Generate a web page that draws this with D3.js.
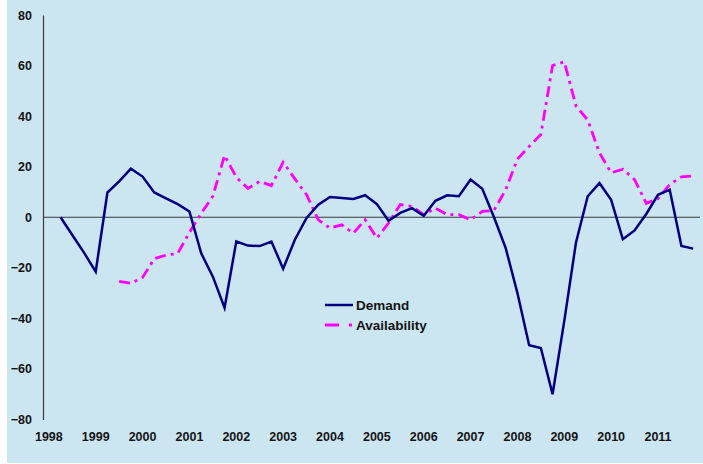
<!DOCTYPE html>
<html>
<head>
<meta charset="utf-8">
<script src="https://cdn.jsdelivr.net/npm/d3@7"></script>
<style>
  body { margin:0; background:#ffffff; }
  svg { display:block; }
  text { font-family: Arial, "Liberation Sans", sans-serif; font-weight:bold; fill:#141414; }
</style>
</head>
<body>
<svg width="703" height="464"></svg>
<script>

// quarterly data, 1998 Q1 .. 2011 Q4
var years = [1998,1999,2000,2001,2002,2003,2004,2005,2006,2007,2008,2009,2010,2011];
var yTicks = [-80,-60,-40,-20,0,20,40,60,80];

var demand = [
    null, 0, -7, -14,
    -21.5, 9.8, 14.2, 19.2,
    16.1, 9.8, 7.5, 5.2,
    2.3, -14.2, -23.5, -35.8,
    -9.6, -11.2, -11.4, -9.6,
    -20.4, -8.9, -0.3, 5,
    8.0, 7.6, 7.2, 8.7,
    5.2, -1.4, 1.7, 3.6,
    0.6, 6.5, 8.7, 8.3,
    14.9, 11.3, 0, -12.2,
    -30, -50.6, -51.7, -70,
    -41, -10, 8.3, 13.5,
    6.9, -8.7, -5.2, 1.3,
    8.9, 10.9, -11.4, -12.4
];

var availability = [
    null, null, null, null,
    null, null, -25.4, -26.1,
    -23.8, -16.4, -15, -14.3,
    -6, 1.5, 8.3, 24.5,
    15.8, 11.4, 14.2, 12.5,
    21.8, 15.2, 8.9, -1,
    -4.3, -3, -6.3, -1,
    -8.3, -2.3, 5, 4.3,
    1, 3.6, 1, 1,
    -1, 2.3, 2.7, 10.9,
    23, 28, 32.7, 60,
    61.5, 44, 38.5, 25.5,
    17.6, 19, 14.9, 5.5,
    7.4, 12.9, 16, 16.3
];

var seriesNames = ['Demand', 'Availability'];

var quarters = [];
years.forEach(function(y){
    for (var q = 1; q <= 4; q++) quarters.push(y + 'Q' + q);
});

var svg = d3.select('svg');

svg.append('rect')
    .attr('x',7)
    .attr('y',0)
    .attr('width',696)
    .attr('height',463)
    .attr('fill','#cce6f1');

var scaleX = d3.scaleBand().domain(quarters).range([43,699]);
var scaleY = d3.scaleLinear().domain([-80,80]).range([419.5,15]);
var half = scaleX.bandwidth()/2;

// y axis
var yAxis = svg.append('g')
    .attr('transform','translate(43,0)')
    .call(d3.axisLeft(scaleY).tickValues(yTicks).tickSize(0).tickPadding(11).tickFormat(d3.format('d')));
yAxis.select('.domain').attr('stroke','#3a3a3a').attr('stroke-width',1.2);
yAxis.selectAll('text').attr('font-size',12.5).attr('font-family','Arial, "Liberation Sans", sans-serif').attr('fill','#141414');

// x axis labels at the bottom
var xAxis = svg.append('g')
    .attr('transform','translate(0,432)')
    .call(d3.axisBottom(scaleX)
        .tickValues(quarters.filter(function(q){ return q.slice(-2) == 'Q1'; }))
        .tickSize(0)
        .tickPadding(0)
        .tickFormat(function(q){ return q.slice(0,4); }));
xAxis.select('.domain').remove();
xAxis.selectAll('text').attr('font-size',12.5).attr('font-family','Arial, "Liberation Sans", sans-serif').attr('fill','#141414');

// zero line
svg.append('line')
    .attr('x1',43)
    .attr('x2',700)
    .attr('y1',scaleY(0))
    .attr('y2',scaleY(0))
    .attr('stroke','#3a3a3a')
    .attr('stroke-width',1.2);

var line = d3.line()
    .defined(function(d){ return d != null; })
    .x(function(d,i){ return scaleX(quarters[i]) + half; })
    .y(function(d){ return scaleY(d); });

svg.append('path')
    .datum(availability)
    .attr('d',line)
    .attr('fill','none')
    .attr('stroke','#ff00ff')
    .attr('stroke-width',2.8)
    .attr('stroke-dasharray','11,5,3,5');

svg.append('path')
    .datum(demand)
    .attr('d',line)
    .attr('fill','none')
    .attr('stroke','#000080')
    .attr('stroke-width',2.5)
    .attr('stroke-linejoin','miter');

// legend
var legend = svg.append('g');

legend.append('line')
    .attr('x1',325).attr('x2',353)
    .attr('y1',305).attr('y2',305)
    .attr('stroke','#000080')
    .attr('stroke-width',2.5);
legend.append('text')
    .attr('x',356).attr('y',309.5)
    .attr('font-size',13.5)
    .text(seriesNames[0]);

legend.append('line')
    .attr('x1',325).attr('x2',353)
    .attr('y1',325).attr('y2',325)
    .attr('stroke','#ff00ff')
    .attr('stroke-width',2.8)
    .attr('stroke-dasharray','14,10,3,5');
legend.append('text')
    .attr('x',356).attr('y',330)
    .attr('font-size',13.5)
    .text(seriesNames[1]);

</script>
</body>
</html>
